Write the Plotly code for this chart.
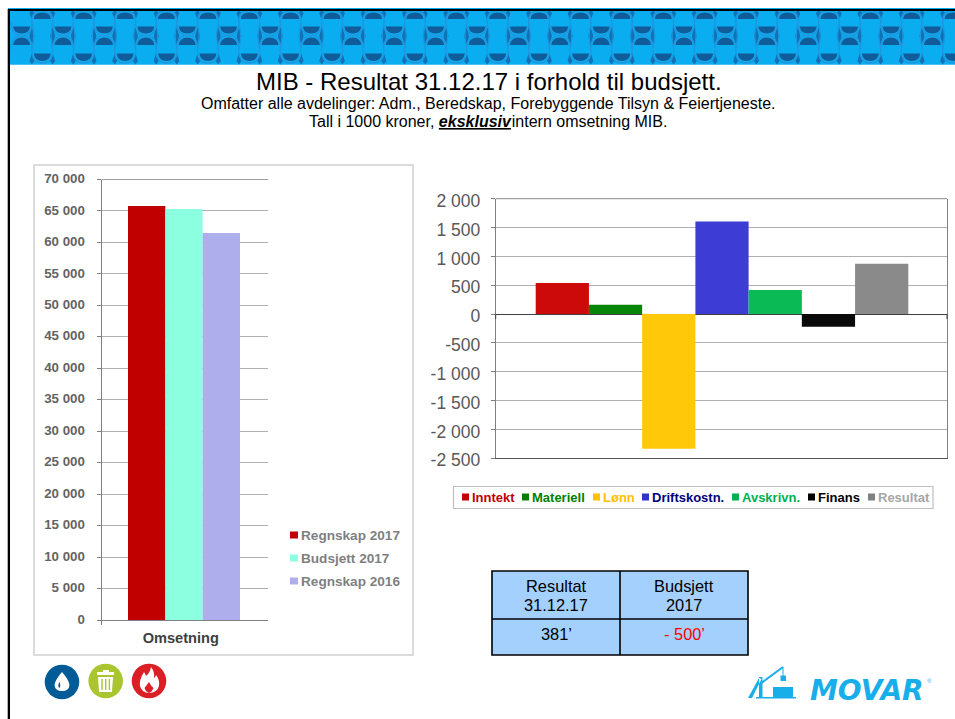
import plotly.graph_objects as go

W, H = 955, 719

# ---- data ----
left_category = ["Omsetning"]
left_series = ["Regnskap 2017", "Budsjett 2017", "Regnskap 2016"]
left_values = [65800, 65300, 61500]
left_colors = ["#C00000", "#8BFFE0", "#AEAEEC"]
left_ticks = list(range(0, 70001, 5000))
left_ticktext = ["0", "5 000", "10 000", "15 000", "20 000", "25 000", "30 000", "35 000",
                 "40 000", "45 000", "50 000", "55 000", "60 000", "65 000", "70 000"]

right_series = ["Inntekt", "Materiell", "Lønn", "Driftskostn.", "Avskrivn.", "Finans", "Resultat"]
right_values = [537, 161, -2333, 1605, 416, -220, 872]
right_colors = ["#CC0A0A", "#078507", "#FFC90A", "#3D3DD6", "#0ABB55", "#0A0A0A", "#8A8A8A"]
right_swatch = ["#C00000", "#008000", "#FFC000", "#3333CC", "#00B050", "#000000", "#808080"]
right_textcol = ["#C00000", "#008000", "#FFC000", "#000080", "#00B050", "#000000", "#A6A6A6"]
right_ticks = [-2500, -2000, -1500, -1000, -500, 0, 500, 1000, 1500, 2000]
right_ticktext = ["-2 500", "-2 000", "-1 500", "-1 000", "-500", "0", "500", "1 000", "1 500", "2 000"]

table_head = [["Resultat", "31.12.17"], ["Budsjett", "2017"]]
table_vals = ["381’", "- 500’"]

FONT = "Liberation Sans"
shapes, annos = [], []


def sh(**k):
    k.setdefault("xref", "x3")
    k.setdefault("yref", "y3")
    k.setdefault("layer", "below")
    shapes.append(k)


def rect(x0, y0, x1, y1, fill=None, line=None, lw=1, layer="below"):
    sh(type="rect", x0=x0, y0=y0, x1=x1, y1=y1, fillcolor=fill or "rgba(0,0,0,0)",
       line=dict(color=line or "rgba(0,0,0,0)", width=lw if line else 0), layer=layer)


def path(d, fill=None, line=None, lw=1, layer="below"):
    sh(type="path", path=d, fillcolor=fill or "rgba(0,0,0,0)",
       line=dict(color=line or "rgba(0,0,0,0)", width=lw if line else 0), layer=layer)


def txt(x, y, s, size, color="#000000", anchor="center", family=FONT):
    annos.append(dict(xref="x3", yref="y3", x=x, y=y, text=s, showarrow=False, xanchor=anchor,
                      yanchor="middle", align="center",
                      font=dict(size=size, color=color, family=family)))


# ---- top band ----
rect(8, 8, W + 2, 64.7, fill="#0AAEF0")
dark, mid, ring, side = [], [], [], []
P = 41.4
c = 42.3
while c - 21 < W + 5:
    p = c - 20.7
    # half moons in the tall column
    dark.append(f"M{c-8.5:.1f},19 Q{c-8.5:.1f},12.5 {c:.1f},12.5 Q{c+8.5:.1f},12.5 {c+8.5:.1f},19 Z")
    dark.append(f"M{c-8.5:.1f},53.5 L{c+8.5:.1f},53.5 Q{c+7.5:.1f},61 {c:.1f},61 Q{c-7.5:.1f},61 {c-8.5:.1f},53.5 Z")
    # half moons in the short column
    dark.append(f"M{p-8.5:.1f},26.5 L{p+8.5:.1f},26.5 Q{p+7.5:.1f},33.5 {p:.1f},33.5 Q{p-7.5:.1f},33.5 {p-8.5:.1f},26.5 Z")
    dark.append(f"M{p-8.5:.1f},45 L{p+8.5:.1f},45 Q{p+7.5:.1f},37.5 {p:.1f},37.5 Q{p-7.5:.1f},37.5 {p-8.5:.1f},45 Z")
    # rings around the moons
    ring.append(f"M{c-10.5:.1f},22 Q{c-10.5:.1f},10.5 {c:.1f},10.5 Q{c+10.5:.1f},10.5 {c+10.5:.1f},22")
    ring.append(f"M{c-10.5:.1f},50 Q{c-10.5:.1f},63 {c:.1f},63 Q{c+10.5:.1f},63 {c+10.5:.1f},50")
    ring.append(f"M{p-10.5:.1f},22 Q{p-10:.1f},35.5 {p:.1f},35.5 Q{p+10:.1f},35.5 {p+10.5:.1f},22")
    ring.append(f"M{p-10.5:.1f},49 Q{p-10:.1f},35.5 {p:.1f},35.5 Q{p+10:.1f},35.5 {p+10.5:.1f},49")
    # waisted sides of the tall column
    side.append(f"M{c-10.5:.1f},22 Q{c-7:.1f},36 {c-10.5:.1f},50 M{c+10.5:.1f},22 Q{c+7:.1f},36 {c+10.5:.1f},50")
    # dark wedges where the columns meet
    for b in (c - 10.35, c + 10.35):
        mid.append(f"M{b:.1f},27 L{b+2.5:.1f},36 L{b:.1f},45 L{b-2.5:.1f},36 Z")
        mid.append(f"M{b:.1f},53 L{b+2.5:.1f},61 L{b:.1f},64.5 L{b-2.5:.1f},61 Z")
        mid.append(f"M{b:.1f},10 L{b+2.5:.1f},13 L{b:.1f},20 L{b-2.5:.1f},13 Z")
    c += P
path(" ".join(mid), fill="#1270B4")
path(" ".join(side), line="#2096DE", lw=1.1)
path(" ".join(ring), line="#2096DE", lw=1.4)
path(" ".join(dark), fill="#105C9A")
# black page frame
rect(8, 9, W + 2, 11, fill="#000000")
rect(7.7, 9, 10, H + 2, fill="#000000")

# ---- headings ----
txt(488.5, 81, "MIB - Resultat 31.12.17 i forhold til budsjett.", 24)
txt(488, 103.5, "Omfatter alle avdelinger: Adm., Beredskap, Forebyggende Tilsyn &amp; Feiertjeneste.", 16)
txt(488, 121.5, "Tall i 1000 kroner, <b><i><u>eksklusiv</u></i></b><span style=\"font-size:3px\"> </span>intern omsetning MIB.", 16)

# ---- left chart frame + legend ----
rect(34, 165, 413, 655, line="#CFCFCF", lw=1.5)
sh(type="line", x0=101.5, x1=268, y0=179.5, y1=179.5, line=dict(color="#A0A0A0", width=1))
for name, col, y in zip(left_series, left_colors, [535, 558, 581]):
    rect(290, y - 3.5, 298, y + 3.5, fill=col)
    txt(298.5, y, f"<b>{name}</b>", 13.6, "#7F7F7F", "left")

# ---- right legend ----
rect(453.5, 486.5, 933, 508.5, line="#BFBFBF", lw=1.2)
swx = [462, 522, 593, 642, 732, 808, 868]
for name, s, t, x in zip(right_series, right_swatch, right_textcol, swx):
    rect(x, 493.5, x + 7, 500.5, fill=s)
    txt(x + 7.5, 497, f"<b>{name}</b>", 13, t, "left")

# top edge and zero-axis end ticks of the right chart
sh(type="line", x0=495.7, x1=947, y0=198.7, y1=198.7, line=dict(color="#8A8A8A", width=1))
for x in (495.7, 947):
    sh(type="line", x0=x, x1=x, y0=314.3, y1=319, line=dict(color="#404040", width=1), layer="above")

# ---- table ----
rect(492, 571, 748, 655, fill="#A4D0FD", line="#000000", lw=1.6)
sh(type="line", x0=620, x1=620, y0=571, y1=655, line=dict(color="#000000", width=1.6))
sh(type="line", x0=492, x1=748, y0=619, y1=619, line=dict(color="#000000", width=1.6))
for x, lines in zip((556, 684), table_head):
    txt(x, 586, lines[0], 16.4)
    txt(x, 605, lines[1], 16.4)
txt(556, 634, table_vals[0], 16.4)
txt(684, 634, table_vals[1], 16.4, "#FF0000")

# ---- icons ----
for cx, cy, col in [(62, 682, "#005B96"), (105.7, 681, "#A9C52F"), (149, 681, "#DA1F26")]:
    sh(type="circle", x0=cx - 17.3, x1=cx + 17.3, y0=cy - 17.3, y1=cy + 17.3, fillcolor=col, line=dict(width=0))
path("M62,672 Q69,680 69.5,685 Q69,691 62,691 Q55,691 54.5,685 Q55,680 62,672 Z", fill="#FFFFFF")
path("M59.5,682 Q57,686 59.5,688 Q61,686 59.5,682 Z", fill="#005B96")
# bin
path("M97,672 L114,672 L114,675 L97,675 Z M103,670 L109,670 L109,672 L103,672 Z", fill="#FFFFFF")
path("M98,677 L113,677 L112,692 L99,692 Z", fill="#FFFFFF")
for x in (102, 105.7, 109.4):
    rect(x - 0.7, 679, x + 0.7, 690, fill="#A9C52F")
# flame
path("M151,667 Q150,673 146,676 Q145,673 144,672 Q139,680 140,686 Q142,693 149,693 Q157,693 159,686 "
     "Q160,680 156,675 Q155,678 154,678 Q155,672 151,667 Z", fill="#FFFFFF")
path("M149,682 Q146,686 144.5,688 Q146,692 149,693 Q152,692 153.5,688 Q151,686 149,682 Z", fill="#DA1F26")

# ---- logo ----
LB = "#18AEEA"
rect(773, 687, 793, 698, fill=LB)
rect(756, 697, 796, 698.5, fill=LB)
path("M748,698 L759,678 L761.5,679 L752,698 Z M759,677 L762.5,677 L762.5,698 L759,698 Z", fill=LB)
path("M760,684 L783,667", line=LB, lw=2)
path("M783,667 L783,676", line=LB, lw=1)
rect(780.5, 675.5, 786, 681, fill=LB)
txt(867, 690, "<b><i>MOVAR</i></b>", 28, LB, family="DejaVu Sans")
txt(929.5, 681, "®", 6, LB)

# ---- figure ----
fig = go.Figure()
for i, (name, val, col) in enumerate(zip(left_series, left_values, left_colors)):
    fig.add_trace(go.Bar(x=left_category, y=[val], name=name, marker=dict(color=col, line=dict(width=0)),
                         xaxis="x", yaxis="y", showlegend=False,
                         width=112 / 166.5 / 3, offset=-56.75 / 166.5 + i * 112 / 166.5 / 3))
for i, (name, val, col) in enumerate(zip(right_series, right_values, right_colors)):
    fig.add_trace(go.Bar(x=[""], y=[val], name=name, marker=dict(color=col, line=dict(width=0)),
                         xaxis="x2", yaxis="y2", showlegend=False,
                         width=372.6 / 451.3 / 7, offset=-185.65 / 451.3 + i * 372.6 / 451.3 / 7))
fig.add_trace(go.Scatter(x=[], y=[], xaxis="x3", yaxis="y3", showlegend=False))

GRID = "#B0B0B0"
fig.update_layout(
    width=W, height=H, margin=dict(l=0, r=0, t=0, b=0, pad=0, autoexpand=False),
    paper_bgcolor="#FFFFFF", plot_bgcolor="rgba(0,0,0,0)",
    font=dict(family=FONT), barmode="overlay",
    shapes=shapes, annotations=annos,
    xaxis=dict(domain=[101.5 / W, 268 / W], anchor="y", type="category", range=[-0.5, 0.5],
               showline=True, linecolor="#808080", linewidth=1, ticks="outside", ticklen=4,
               tickcolor="#808080", tickson="boundaries", showgrid=False,
               tickfont=dict(size=14.6, color="#404040", family=FONT, weight="bold"),
               ticklabelstandoff=4, ticklabelshift=-4),
    yaxis=dict(domain=[1 - 620 / H, 1 - 179.5 / H], anchor="x", range=[0, 70000], tickvals=left_ticks,
               ticktext=left_ticktext, showline=True, linecolor="#808080", linewidth=1,
               ticks="outside", ticklen=4, tickcolor="#808080", gridcolor=GRID, gridwidth=1,
               zeroline=False, tickfont=dict(size=13.3, color="#636363", family=FONT, weight="bold"),
               ticklabelstandoff=9, ticklabelshift=-1),
    xaxis2=dict(domain=[495.7 / W, 947 / W], anchor="y2", type="category", range=[-0.5, 0.5],
                showline=True, linecolor="#505050", linewidth=1, showticklabels=False,
                ticks="", showgrid=False),
    yaxis2=dict(domain=[1 - 458.3 / H, 1 - 198.7 / H], anchor="x2", range=[-2500, 2000],
                tickvals=right_ticks, ticktext=right_ticktext, showline=True, linecolor="#808080",
                linewidth=1, mirror=True, ticks="outside", ticklen=4, tickcolor="#808080",
                gridcolor=GRID, gridwidth=1, zeroline=True, zerolinecolor="#404040", zerolinewidth=1,
                tickfont=dict(size=17.5, color="#595959"), ticklabelstandoff=7, ticklabelshift=2),
    xaxis3=dict(domain=[0, 1], range=[0, W], visible=False, anchor="y3", fixedrange=True),
    yaxis3=dict(domain=[0, 1], range=[H, 0], visible=False, anchor="x3", fixedrange=True),
)

fig.write_html("out.html", config=dict(displayModeBar=False),
               post_script="document.body.style.margin='0';document.body.style.overflow='hidden';")
